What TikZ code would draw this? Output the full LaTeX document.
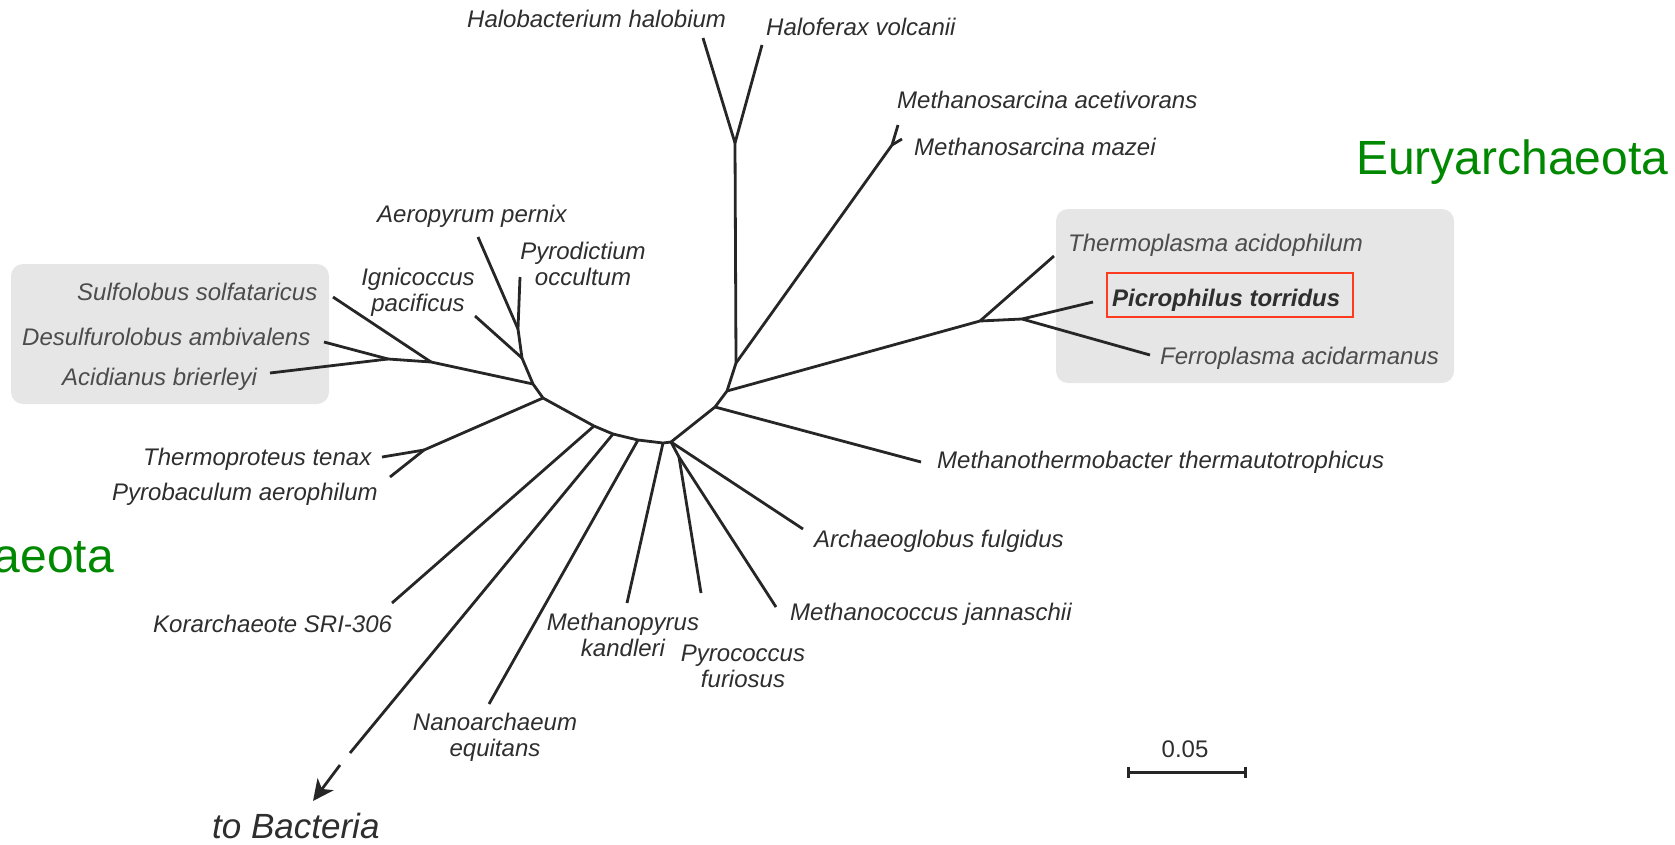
\documentclass[tikz,border=0pt]{standalone}
\usepackage{fontspec}
\setmainfont{Liberation Sans}
\usetikzlibrary{arrows.meta}
\definecolor{branch}{HTML}{262626}
\definecolor{lbl}{HTML}{2E2E2E}
\definecolor{lblbox}{HTML}{4C4C4C}
\definecolor{boxgray}{HTML}{E6E6E6}
\definecolor{grn}{HTML}{008800}
\definecolor{redbox}{HTML}{FF3B1F}
\begin{document}
\begin{tikzpicture}[x=1pt,y=-1pt,
  br/.style={draw=branch, line width=2.8pt, line join=round},
  lab/.style={font=\fontsize{24}{26}\selectfont\itshape, text=lbl, inner sep=0pt},
  lw/.style={lab, anchor=base west},
  lc/.style={lab, align=center, anchor=north},
  inbox/.style={text=lblbox},
  grp/.style={fill=boxgray, draw=none, rounded corners=12pt},
  phylum/.style={font=\fontsize{48}{50}\selectfont, text=grn, inner sep=0pt}]
\useasboundingbox (0,0) rectangle (1675,844);

% grey group boxes
\fill[grp] (11,264) rectangle (329,404);
\fill[grp] (1056,209) rectangle (1454,383);

% backbone arc
\coordinate (C0) at (518,329);
\coordinate (C1) at (522,358);
\coordinate (C2) at (533,384);
\coordinate (C3) at (543,398);
\coordinate (C4) at (594,426);
\coordinate (C5) at (613,434);
\coordinate (C6) at (638,440);
\coordinate (C7) at (663,443);
\coordinate (C8) at (671,442);
\coordinate (C9) at (715,407);
\coordinate (C10) at (727,391);
\coordinate (C11) at (736,363);
% internal nodes
\coordinate (S2) at (431,362);
\coordinate (S1) at (388,359);
\coordinate (T) at (424,450);
\coordinate (E1) at (679,457);
\coordinate (J1) at (980,321);
\coordinate (J2) at (1022,319);
\coordinate (HF) at (735,143);
\coordinate (MS) at (892,145);
% tips
\coordinate (tAero) at (478,237);
\coordinate (tPyrod) at (520,277);
\coordinate (tIgni) at (475,316);
\coordinate (tSulf) at (333,297);
\coordinate (tDesu) at (324,342);
\coordinate (tAcid) at (270,373);
\coordinate (tTpro) at (382,457);
\coordinate (tPbac) at (390,477);
\coordinate (tKor) at (392,603);
\coordinate (tBac) at (350,753);
\coordinate (aBac1) at (340,765);
\coordinate (aBac2) at (313,801);
\coordinate (tNano) at (489,704);
\coordinate (tMpyr) at (627,603);
\coordinate (tPyco) at (701,593);
\coordinate (tMcoc) at (776,607);
\coordinate (tArch) at (803,529);
\coordinate (tMthb) at (921,462);
\coordinate (tTpla) at (1054,256);
\coordinate (tPicr) at (1093,302);
\coordinate (tFerr) at (1150,355);
\coordinate (tHbac) at (703,38);
\coordinate (tHfer) at (762,45);
\coordinate (tMace) at (898,125);
\coordinate (tMmaz) at (902,139);

% branches
\draw[br] (C0) -- (C1) -- (C2) -- (C3) -- (C4) -- (C5) -- (C6) -- (C7) -- (C8) -- (C9) -- (C10) -- (C11);
\draw[br] (tAero) -- (C0);
\draw[br] (tPyrod) -- (C0);
\draw[br] (tIgni) -- (C1);
\draw[br] (C2) -- (S2) -- (S1);
\draw[br] (S2) -- (tSulf);
\draw[br] (S1) -- (tDesu);
\draw[br] (S1) -- (tAcid);
\draw[br] (C3) -- (T);
\draw[br] (T) -- (tTpro);
\draw[br] (T) -- (tPbac);
\draw[br] (C4) -- (tKor);
\draw[br] (C5) -- (tBac);
\draw[br, -{Stealth[length=21pt,width=20pt,inset=6pt]}] (aBac1) -- (aBac2);
\draw[br] (C6) -- (tNano);
\draw[br] (C7) -- (tMpyr);
\draw[br] (C8) -- (tArch);
\draw[br] (C8) -- (E1);
\draw[br] (E1) -- (tPyco);
\draw[br] (E1) -- (tMcoc);
\draw[br] (C9) -- (tMthb);
\draw[br] (C10) -- (J1) -- (J2);
\draw[br] (J1) -- (tTpla);
\draw[br] (J2) -- (tPicr);
\draw[br] (J2) -- (tFerr);
\draw[br] (C11) -- (HF);
\draw[br] (HF) -- (tHbac);
\draw[br] (HF) -- (tHfer);
\draw[br] (C11) -- (MS) -- (tMace);
\draw[br] (MS) -- (tMmaz);

% labels
\node[lw] (lHbac) at (467,27) {Halobacterium halobium};
\node[lw] (lHfer) at (766,35) {Haloferax volcanii};
\node[lw] (lMace) at (897,108) {Methanosarcina acetivorans};
\node[lw] (lMmaz) at (914,155) {Methanosarcina mazei};
\node[lw, inbox] (lTpla) at (1068,251) {Thermoplasma acidophilum};
\node[lw, font=\fontsize{24}{26}\selectfont\itshape\bfseries] (lPicr) at (1112,306) {Picrophilus torridus};
\node[lw, inbox] (lFerr) at (1160,364) {Ferroplasma acidarmanus};
\node[lw] (lMthb) at (937,468) {Methanothermobacter thermautotrophicus};
\node[lw] (lArch) at (814,547) {Archaeoglobus fulgidus};
\node[lw] (lMcoc) at (790,620) {Methanococcus jannaschii};
\node[lc] (lMpyr) at (623,613) {Methanopyrus\\kandleri};
\node[lc] (lPyco) at (743,645) {Pyrococcus\\furiosus};
\node[lc] (lNano) at (495,713) {Nanoarchaeum\\equitans};
\node[lw] (lKor) at (153,632) {Korarchaeote SRI-306};
\node[lw, font=\fontsize{35}{37}\selectfont\itshape] (lBac) at (212,838) {to Bacteria};
\node[lw] (lTpro) at (143,465) {Thermoproteus tenax};
\node[lw] (lPbac) at (112,500) {Pyrobaculum aerophilum};
\node[lw, inbox] (lSulf) at (77,300) {Sulfolobus solfataricus};
\node[lw, inbox] (lDesu) at (22,345) {Desulfurolobus ambivalens};
\node[lw, inbox] (lAcid) at (62,385) {Acidianus brierleyi};
\node[lc] (lIgni) at (418,268) {Ignicoccus\\pacificus};
\node[lw] (lAero) at (377,222) {Aeropyrum pernix};
\node[lc] (lPyrod) at (583,242) {Pyrodictium\\occultum};

% highlight box
\draw[draw=redbox, line width=2pt] (1107,273) rectangle (1353,317);

% phylum names
\node[phylum, anchor=base west] (eury) at (1356,174) {Euryarchaeota};
\node[phylum, anchor=base east] (cren) at (114,572) {Crenarchaeota};

% scale bar
\coordinate (sb1) at (1127,772);
\coordinate (sb2) at (1247,772);
\draw[draw=branch, line width=3pt, {Bar[width=11pt]}-{Bar[width=11pt]}] (sb1) -- (sb2);
\node[font=\fontsize{24}{26}\selectfont, text=lbl, inner sep=0pt, anchor=base] (sbl) at (1185,757) {0.05};
\end{tikzpicture}
\end{document}
